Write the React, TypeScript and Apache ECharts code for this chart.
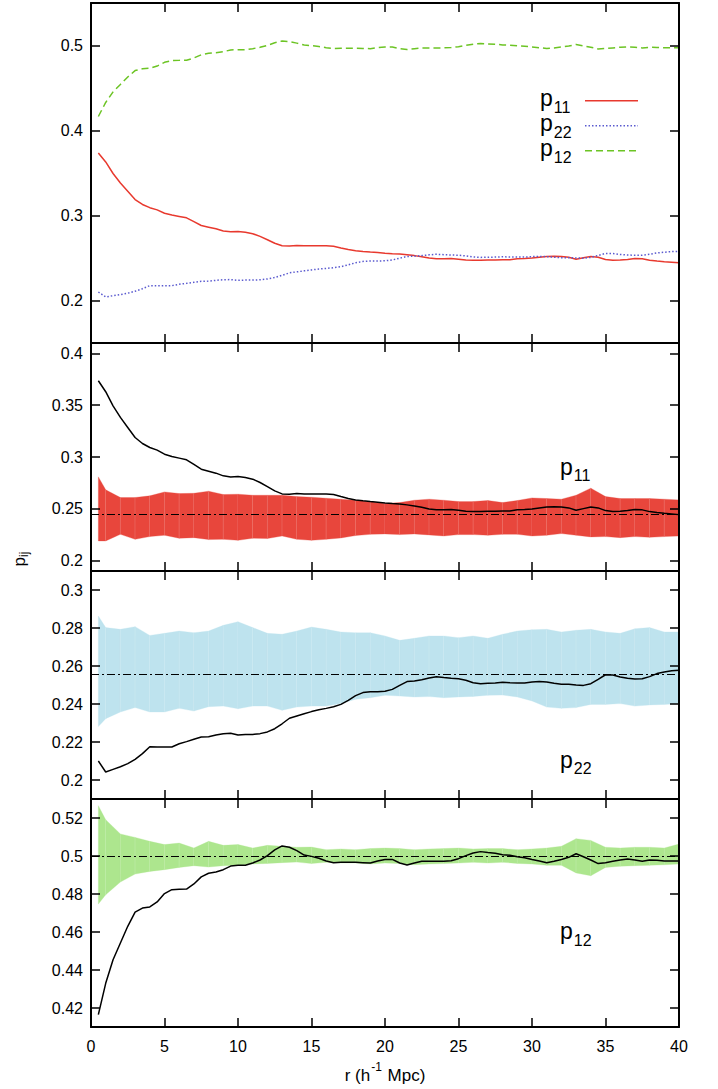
import React, { useEffect, useRef } from "react";
import * as echarts from "echarts";

// r values (h^-1 Mpc) of the measured curves
const rLine = [
  0.5, 1, 1.5, 2, 2.5, 3, 3.5, 4, 4.5, 5,
  5.5, 6, 6.5, 7, 7.5, 8, 8.5, 9, 9.5, 10,
  10.5, 11, 11.5, 12, 12.5, 13, 13.5, 14, 14.5, 15,
  15.5, 16, 16.5, 17, 17.5, 18, 18.5, 19, 19.5, 20,
  20.5, 21, 21.5, 22, 22.5, 23, 23.5, 24, 24.5, 25,
  25.5, 26, 26.5, 27, 27.5, 28, 28.5, 29, 29.5, 30,
  30.5, 31, 31.5, 32, 32.5, 33, 33.5, 34, 34.5, 35,
  35.5, 36, 36.5, 37, 37.5, 38, 38.5, 39, 39.5, 40,
];

const p11 = [
  0.3736, 0.363, 0.3494, 0.3382, 0.3285, 0.3188, 0.313, 0.3092, 0.3066, 0.3027,
  0.3005, 0.2989, 0.2973, 0.2928, 0.2882, 0.2863, 0.2844, 0.2818, 0.2808, 0.2812,
  0.2802, 0.2786, 0.2754, 0.2715, 0.2673, 0.2644, 0.2641, 0.2647, 0.2644, 0.2644,
  0.2644, 0.2644, 0.2638, 0.2618, 0.2599, 0.2586, 0.2577, 0.257, 0.2564, 0.2557,
  0.2551, 0.2547, 0.2538, 0.2528, 0.2515, 0.2499, 0.249, 0.249, 0.2493, 0.2486,
  0.2477, 0.2473, 0.2473, 0.2477, 0.2477, 0.248, 0.248, 0.249, 0.2493, 0.2499,
  0.2509, 0.2518, 0.2521, 0.2518, 0.2509, 0.2486, 0.2502, 0.2518, 0.2509, 0.2483,
  0.2473, 0.2477, 0.2483, 0.2493, 0.249, 0.2473, 0.2464, 0.2457, 0.2451, 0.2444,
];

const p22 = [
  0.21, 0.2042, 0.2056, 0.207, 0.2086, 0.2109, 0.2139, 0.2175, 0.2174, 0.2174,
  0.2174, 0.2191, 0.2202, 0.2214, 0.2226, 0.2228, 0.2237, 0.2244, 0.2246, 0.2237,
  0.224, 0.224, 0.2244, 0.2253, 0.227, 0.2296, 0.2325, 0.2337, 0.2349, 0.236,
  0.237, 0.2377, 0.2386, 0.2398, 0.2419, 0.2444, 0.246, 0.2465, 0.2465, 0.2467,
  0.2477, 0.2498, 0.2518, 0.2521, 0.2528, 0.2537, 0.2544, 0.2539, 0.2535, 0.2533,
  0.2525, 0.2512, 0.2507, 0.2509, 0.2511, 0.2514, 0.2512, 0.2511, 0.2511, 0.2516,
  0.2519, 0.2516, 0.2509, 0.2504, 0.2504, 0.25, 0.2498, 0.2507, 0.253, 0.2554,
  0.2553, 0.2542, 0.2535, 0.2532, 0.2533, 0.2544, 0.256, 0.2568, 0.2575, 0.2577,
];

const p12 = [
  0.4165, 0.433, 0.4454, 0.4542, 0.463, 0.4705, 0.4726, 0.4732, 0.4758, 0.4802,
  0.4823, 0.4825, 0.4826, 0.4853, 0.489, 0.4909, 0.4916, 0.4928, 0.4947, 0.4951,
  0.4951, 0.4963, 0.4979, 0.5002, 0.5032, 0.5053, 0.5046, 0.5028, 0.5005, 0.4998,
  0.4988, 0.4974, 0.4965, 0.4967, 0.4967, 0.4967, 0.4965, 0.4963, 0.4974, 0.4982,
  0.4982, 0.4963, 0.4953, 0.4963, 0.4972, 0.4972, 0.4972, 0.4972, 0.4975, 0.4986,
  0.5002, 0.5016, 0.5023, 0.5018, 0.5014, 0.5007, 0.5004, 0.4996, 0.4991, 0.4982,
  0.4974, 0.4965, 0.4972, 0.4982, 0.4993, 0.5012, 0.4996, 0.4979, 0.496, 0.4965,
  0.4972, 0.4979, 0.4984, 0.4979, 0.4972, 0.4979, 0.4977, 0.4974, 0.4974, 0.4974,
];

// r values of the random-catalogue bands
const rBand = [
  0.5, 1, 2, 3, 4, 5, 6, 7, 8, 9, 10,
  11, 12, 13, 14, 15, 16, 17, 18, 19, 20,
  21, 22, 23, 24, 25, 26, 27, 28, 29, 30,
  31, 32, 33, 34, 35, 36, 37, 38, 39, 40,
];

const p11Hi = [
  0.2808, 0.2683, 0.2609, 0.2609, 0.2625, 0.2663, 0.2647, 0.265, 0.267, 0.2638, 0.2641,
  0.2631, 0.2631, 0.2631, 0.2618, 0.2612, 0.2602, 0.2593, 0.2583, 0.2567, 0.2551,
  0.256, 0.2583, 0.2593, 0.2583, 0.257, 0.257, 0.258, 0.256, 0.258, 0.2605,
  0.2599, 0.2593, 0.2631, 0.2699, 0.2618, 0.2599, 0.2599, 0.2599, 0.2593, 0.2586,
];
const p11Lo = [
  0.219, 0.219, 0.2254, 0.2206, 0.2232, 0.2245, 0.2216, 0.2222, 0.2203, 0.2206, 0.2196,
  0.2216, 0.2213, 0.2238, 0.2206, 0.2196, 0.2206, 0.2219, 0.2242, 0.2254, 0.2258,
  0.2251, 0.2258, 0.2248, 0.2238, 0.2251, 0.2251, 0.2245, 0.2254, 0.2254, 0.2238,
  0.2245, 0.2261, 0.2245, 0.2229, 0.2232, 0.2222, 0.2232, 0.2225, 0.2232, 0.2238,
];
const p22Hi = [
  0.2863, 0.2802, 0.2793, 0.2807, 0.2761, 0.2772, 0.2784, 0.2775, 0.2784, 0.2814, 0.2833,
  0.2802, 0.2772, 0.2767, 0.2784, 0.2805, 0.2793, 0.2779, 0.2775, 0.2775, 0.2758,
  0.2735, 0.2746, 0.2758, 0.2758, 0.2749, 0.2758, 0.2746, 0.2767, 0.2784, 0.2791,
  0.2793, 0.2779, 0.2788, 0.2793, 0.2779, 0.2772, 0.2796, 0.2802, 0.2779, 0.2779,
];
const p22Lo = [
  0.2281, 0.2323, 0.2358, 0.2381, 0.2358, 0.2358, 0.2377, 0.2363, 0.2386, 0.2389, 0.2375,
  0.2389, 0.2389, 0.2367, 0.2384, 0.2389, 0.2389, 0.2402, 0.2425, 0.2433, 0.2446,
  0.2442, 0.2437, 0.2439, 0.2433, 0.2437, 0.244, 0.2446, 0.2447, 0.2437, 0.2416,
  0.2384, 0.2377, 0.2381, 0.2398, 0.2398, 0.2402, 0.2389, 0.2395, 0.2398, 0.2402,
];
const p12Hi = [
  0.5265, 0.5191, 0.5116, 0.5098, 0.5077, 0.506, 0.5068, 0.5042, 0.5077, 0.5056, 0.506,
  0.5042, 0.5056, 0.5051, 0.5046, 0.5047, 0.5033, 0.5037, 0.5033, 0.5039, 0.5042,
  0.5039, 0.5033, 0.5037, 0.5039, 0.5042, 0.5037, 0.5039, 0.5039, 0.5033, 0.5037,
  0.5042, 0.5051, 0.5091, 0.5082, 0.5046, 0.5042, 0.5046, 0.5046, 0.5042, 0.5063,
];
const p12Lo = [
  0.4747, 0.4796, 0.4863, 0.4905, 0.4919, 0.4928, 0.494, 0.4949, 0.4942, 0.4949, 0.4951,
  0.4958, 0.4961, 0.4965, 0.4968, 0.496, 0.4967, 0.4963, 0.4963, 0.4958, 0.4963,
  0.496, 0.4954, 0.4958, 0.496, 0.4963, 0.4967, 0.4963, 0.4967, 0.4961, 0.4958,
  0.4951, 0.4951, 0.4911, 0.4896, 0.494, 0.4946, 0.4949, 0.4951, 0.4954, 0.4958,
];

const p11Mean = 0.2445;
const p22Mean = 0.2558;
const p12Mean = 0.5;

const xTicks = [0, 40, 5]; // min, max, step
const yRanges = [
  [0.15, 0.55, 0.1],
  [0.19, 0.41, 0.05],
  [0.19, 0.31, 0.02],
  [0.41, 0.53, 0.02],
];

const FONT = "'Liberation Sans', Arial, Helvetica, sans-serif";

const gridBoxes = [
  { top: 3, height: 340 },
  { top: 343, height: 228 },
  { top: 571, height: 228 },
  { top: 799, height: 228 },
];

function pairs(xs: number[], ys: number[]) {
  return xs.map((x, i) => [x, ys[i]]);
}

function bandSeries(lo: number[], hi: number[], color: string, gi: number) {
  const data = rBand.map((r, i) => [r, lo[i], hi[i]]);
  return {
    type: "custom",
    xAxisIndex: gi * 2,
    yAxisIndex: gi * 2,
    clip: true,
    silent: true,
    z: 1,
    data,
    encode: { x: 0, y: [1, 2] },
    renderItem: (params: any, api: any) => {
      const i = params.dataIndex;
      if (i >= data.length - 1) return null;
      const a = data[i];
      const b = data[i + 1];
      const p1 = api.coord([a[0], a[1]]);
      const p2 = api.coord([b[0], b[1]]);
      const p3 = api.coord([b[0], b[2]]);
      const p4 = api.coord([a[0], a[2]]);
      return {
        type: "group",
        children: [
          {
            type: "polygon",
            shape: { points: [p1, p2, p3, p4] },
            style: { fill: color, stroke: color, lineWidth: 0.3 },
          },
          {
            type: "line",
            shape: { x1: p2[0], y1: p2[1], x2: p3[0], y2: p3[1] },
            style: { stroke: "rgba(255,255,255,0.3)", lineWidth: 0.8 },
          },
        ],
      };
    },
  };
}

function blackLine(ys: number[], mean: number, gi: number) {
  return {
    type: "line",
    xAxisIndex: gi * 2,
    yAxisIndex: gi * 2,
    data: pairs(rLine, ys),
    showSymbol: false,
    symbol: "none",
    z: 3,
    lineStyle: { color: "#000", width: 1.5 },
    markLine: {
      silent: true,
      symbol: "none",
      precision: 5,
      label: { show: false },
      lineStyle: { color: "#000", width: 1, type: [8, 3, 2, 3] },
      data: [{ yAxis: mean }],
    },
  };
}

function buildOption() {
  const grid = gridBoxes.map((g) => ({
    left: 91,
    width: 588,
    top: g.top,
    height: g.height,
    containLabel: false,
  }));

  const tick = {
    show: true,
    inside: true,
    length: 9,
    lineStyle: { color: "#000", width: 1.5 },
  };
  const line = { show: true, onZero: false, lineStyle: { color: "#000", width: 2 } };

  const xAxis: any[] = [];
  const yAxis: any[] = [];
  gridBoxes.forEach((_, i) => {
    ["bottom", "top"].forEach((pos) => {
      xAxis.push({
        gridIndex: i,
        type: "value",
        position: pos,
        min: xTicks[0],
        max: xTicks[1],
        interval: xTicks[2],
        axisLine: line,
        axisTick: tick,
        splitLine: { show: false },
        axisLabel: {
          show: pos === "bottom" && i === 3,
          fontSize: 16,
          color: "#000",
          fontFamily: FONT,
          margin: 11,
        },
        z: 5,
      });
    });
    const [mn, mx, st] = yRanges[i];
    ["left", "right"].forEach((pos) => {
      yAxis.push({
        gridIndex: i,
        type: "value",
        position: pos,
        min: mn,
        max: mx,
        splitNumber: Math.round((mx - mn) / st),
        minInterval: st,
        maxInterval: st,
        axisLine: line,
        axisTick: tick,
        splitLine: { show: false },
        axisLabel: {
          show: pos === "left",
          showMinLabel: false,
          showMaxLabel: false,
          fontSize: 16,
          color: "#000",
          fontFamily: FONT,
          margin: 8,
        },
        z: 5,
      });
    });
  });

  const series: any[] = [
    {
      type: "line",
      xAxisIndex: 0,
      yAxisIndex: 0,
      data: pairs(rLine, p11),
      showSymbol: false,
      symbol: "none",
      lineStyle: { color: "#e8392e", width: 1.5 },
    },
    {
      type: "line",
      xAxisIndex: 0,
      yAxisIndex: 0,
      data: pairs(rLine, p22),
      showSymbol: false,
      symbol: "none",
      lineStyle: { color: "#5a5acf", width: 1.5, type: [1.5, 2] },
    },
    {
      type: "line",
      xAxisIndex: 0,
      yAxisIndex: 0,
      data: pairs(rLine, p12),
      showSymbol: false,
      symbol: "none",
      lineStyle: { color: "#6cc424", width: 1.5, type: [7, 4] },
    },
    bandSeries(p11Lo, p11Hi, "#e8463c", 1),
    blackLine(p11, p11Mean, 1),
    bandSeries(p22Lo, p22Hi, "#bee3ee", 2),
    blackLine(p22, p22Mean, 2),
    bandSeries(p12Lo, p12Hi, "#ade68e", 3),
    blackLine(p12, p12Mean, 3),
  ];

  const subLabel = (x: number, y: number, sub: string) => ({
    type: "text",
    x,
    y,
    z: 10,
    style: {
      text: `{p|p}{s|${sub}}`,
      align: "left",
      verticalAlign: "middle",
      fill: "#000",
      rich: {
        p: { fontSize: 23, fontFamily: FONT, fill: "#000" },
        s: { fontSize: 16, fontFamily: FONT, fill: "#000", padding: [18, 0, 0, 1] },
      },
    },
  });

  const legendLine = (y: number, color: string, dash: any) => ({
    type: "line",
    z: 10,
    shape: { x1: 585, y1: y, x2: 638, y2: y },
    style: { stroke: color, lineWidth: 1.5, lineDash: dash },
  });

  const graphic: any[] = [
    subLabel(540, 98, "11"),
    subLabel(540, 123, "22"),
    subLabel(540, 148, "12"),
    legendLine(100.7, "#e8392e", null),
    legendLine(125.7, "#5a5acf", [1.5, 2]),
    legendLine(150.7, "#6cc424", [7, 4]),
    subLabel(560, 466.5, "11"),
    subLabel(560, 759.5, "22"),
    subLabel(560, 931, "12"),
    {
      type: "text",
      x: 385,
      y: 1075,
      z: 10,
      style: {
        text: "{t|r (h}{u|-1}{t| Mpc)}",
        align: "center",
        verticalAlign: "middle",
        fill: "#000",
        rich: {
          t: { fontSize: 17, fontFamily: FONT, fill: "#000" },
          u: { fontSize: 12, fontFamily: FONT, fill: "#000", padding: [0, 1, 17, 1] },
        },
      },
    },
    {
      type: "text",
      x: 19,
      y: 559,
      rotation: Math.PI / 2,
      z: 10,
      style: {
        text: "{p|p}{s|ij}",
        align: "center",
        verticalAlign: "middle",
        fill: "#000",
        rich: {
          p: { fontSize: 17, fontFamily: FONT, fill: "#000" },
          s: { fontSize: 12, fontFamily: FONT, fill: "#000", padding: [10, 0, 0, 0] },
        },
      },
    },
  ];

  return {
    animation: false,
    backgroundColor: "#fff",
    grid,
    xAxis,
    yAxis,
    series,
    graphic,
  };
}

export default function App() {
  const ref = useRef<HTMLDivElement>(null);
  useEffect(() => {
    if (!ref.current) return;
    const chart = echarts.init(ref.current, null, { renderer: "svg" });
    chart.setOption(buildOption() as any);
    return () => chart.dispose();
  }, []);
  return (
    <div
      ref={ref}
      style={{ position: "absolute", left: 0, top: 0, width: 718, height: 1089 }}
    />
  );
}
